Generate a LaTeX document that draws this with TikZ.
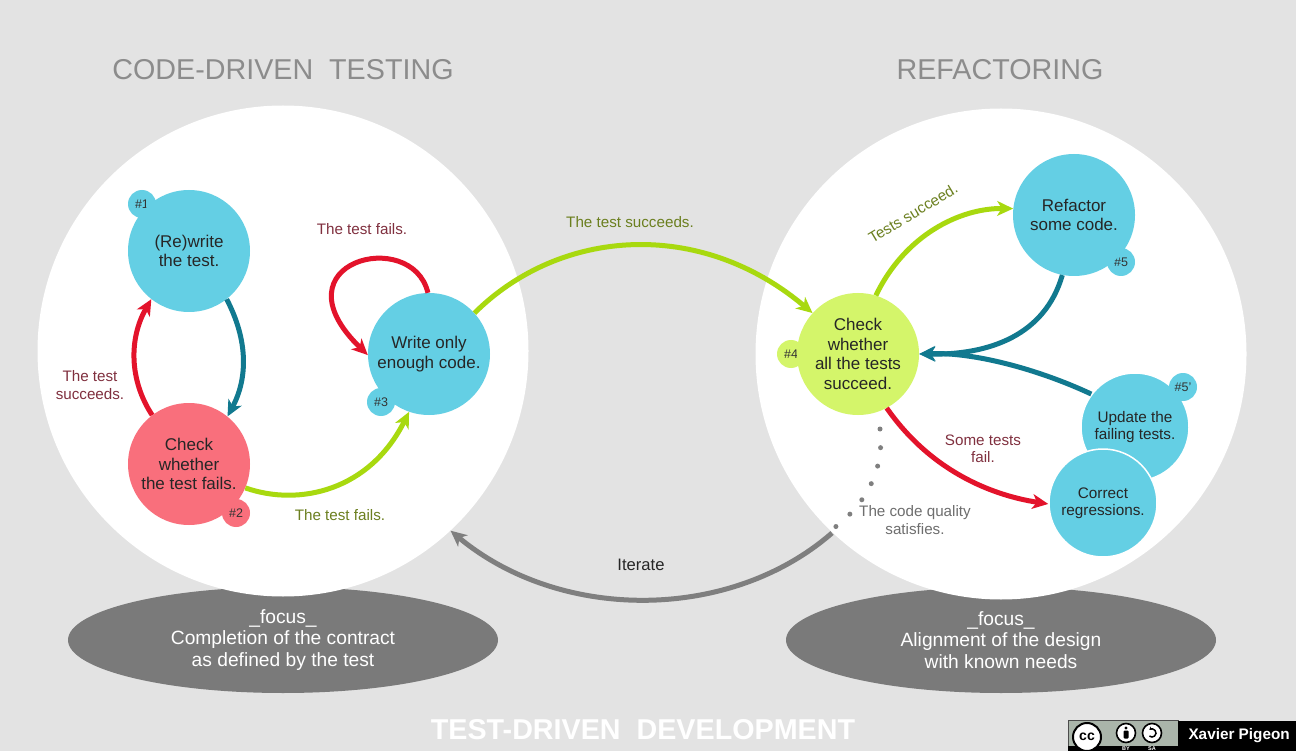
\documentclass[tikz,border=0pt]{standalone}
\usepackage{fontspec}
\setmainfont{Liberation Sans}
\usepackage{xcolor}
\usetikzlibrary{arrows.meta,shapes.geometric}
\definecolor{pagegray}{RGB}{227,227,227}
\definecolor{focusgray}{RGB}{122,122,122}
\definecolor{titlegray}{RGB}{140,140,140}
\definecolor{stepblue}{RGB}{100,207,228}
\definecolor{steppink}{RGB}{249,111,124}
\definecolor{steplime}{RGB}{212,245,106}
\definecolor{flowlime}{RGB}{168,217,15}
\definecolor{flowred}{RGB}{227,19,43}
\definecolor{flowteal}{RGB}{17,121,143}
\definecolor{flowgray}{RGB}{127,127,127}
\definecolor{labelred}{RGB}{128,48,63}
\definecolor{labelolive}{RGB}{107,127,31}
\definecolor{labelgray}{RGB}{110,110,110}
\definecolor{ccgray}{RGB}{170,181,170}
\newcommand{\fsize}[2]{\fontsize{#1}{#2}\selectfont}
\tikzset{
  phase/.style   = {circle, fill=white, minimum size=491pt, inner sep=0pt},
  focus/.style   = {ellipse, fill=focusgray, minimum width=430pt, minimum height=106pt, inner sep=0pt, align=center, text=white, font=\fsize{19.2}{21.5}},
  title/.style   = {text=titlegray, font=\fsize{28.7}{32}},
  stepnode/.style = {circle, minimum size=122pt, inner sep=0pt, align=center, text=black!85, font=\fsize{17}{19.5}},
  smallnode/.style = {stepnode, minimum size=108pt, font=\fsize{15.3}{17.5}, draw=white, line width=1.5pt},
  badge/.style   = {circle, minimum size=28pt, inner sep=0pt, text=black!80, font=\fsize{12.5}{13}},
  flow/.style    = {-{Stealth[inset=1.6mm, length=5.6mm, width=5.2mm]}, line width=5pt},
  lbl/.style     = {align=center, font=\fsize{15.2}{17.5}},
  ccicon/.style  = {circle, draw=black, fill=white, inner sep=0pt, text=black},
}
\begin{document}
\begin{tikzpicture}[x=1pt,y=-1pt]
  \useasboundingbox (0,0) rectangle (1296,751);
  \fill[pagegray] (0,0) rectangle (1296,751);

  \node[focus] (focusl) at (283,640) {\_focus\_\\Completion of the contract\\as defined by the test};
  \node[focus] (focusr) at (1001,640) {\_focus\_\\Alignment of the design\\with known needs};
  \node[phase] (cdt) at (283,351) {};
  \node[phase] (refac) at (1001,354) {};

  \node[title] (titlel) at (283,70) {CODE-DRIVEN~~TESTING};
  \node[title] (titler) at (1000,70) {REFACTORING};
  \node[title, text=white, font=\fsize{28.7}{32}\bfseries] (titleb) at (643,730) {TEST-DRIVEN~~DEVELOPMENT};

  \node[badge, fill=stepblue] (b1) at (142,204) {\#1};
  \node[badge, fill=steppink] (b2) at (236,513) {\#2};
  \node[badge, fill=stepblue] (b3) at (381,402) {\#3};
  \node[badge, fill=steplime] (b4) at (791,354) {\#4};
  \node[badge, fill=stepblue] (b5) at (1121,262) {\#5};
  \node[stepnode, fill=stepblue] (rewrite) at (189,251) {(Re)write\\the test.};
  \node[stepnode, fill=steppink] (checkfail) at (189,464) {Check\\whether\\the test fails.};
  \node[stepnode, fill=stepblue] (writecode) at (429,354) {Write only\\enough code.};
  \node[stepnode, fill=steplime] (checkall) at (858,354) {Check\\whether\\all the tests\\succeed.};
  \node[stepnode, fill=stepblue] (refactor) at (1074,215) {Refactor\\some code.};
  \node[smallnode, fill=stepblue] (update) at (1135,427) {Update the\\failing tests.};
  \node[smallnode, fill=stepblue] (correct) at (1103,503) {Correct\\regressions.};
  \node[badge, fill=stepblue] (b5p) at (1183,387) {\#5'};

  \coordinate (dotstart) at (880,429);
  \coordinate (dotend) at (834,528);
  \coordinate (iterstart) at (832,533);

  \draw[flow, flowred] (checkfail.127) .. controls (129,380) and (129,338) .. (rewrite.232);
  \draw[flow, flowteal] (rewrite.308) .. controls (248,340) and (248,378) .. (checkfail.51);
  \draw[flow, flowlime] (checkfail.337) .. controls (300,507) and (370,490) .. (writecode.251);
  \draw[flow, flowred] (writecode.91) .. controls (412,226) and (272,262) .. (writecode.181);
  \draw[flow, flowlime] (writecode.42) .. controls (560,228) and (700,218) .. (checkall.138);
  \draw[flow, flowlime] (checkall.73) .. controls (905,235) and (960,208) .. (refactor.174);
  \draw[flow, flowteal] (refactor.259) .. controls (1045,335) and (990,355) .. (checkall.0);
  \draw[flow, flowteal] (update.143) .. controls (1040,370) and (975,352) .. (checkall.0);
  \draw[flow, flowred] (checkall.298) .. controls (930,470) and (990,495) .. (correct.181);
  \draw[flow, flowgray] (iterstart) .. controls (730,622) and (560,622) .. (cdt.313);
  \draw[line width=5pt, line cap=round, dash pattern=on 0pt off 18.7pt, flowgray] (dotstart) .. controls (885,470) and (865,505) .. (dotend);

  \node[lbl, text=labelred] (l1) at (362,229) {The test fails.};
  \node[lbl, text=labelred] (l2) at (90,385) {The test\\succeeds.};
  \node[lbl, text=labelolive] (l3) at (340,515) {The test fails.};
  \node[lbl, text=labelolive] (l4) at (630,222) {The test succeeds.};
  \node[lbl, text=labelolive, rotate=31] (l5) at (913,213) {Tests succeed.};
  \node[lbl, text=labelred] (l6) at (983,449) {Some tests\\fail.};
  \node[lbl, text=labelgray] (l7) at (915,520) {The code quality\\satisfies.};
  \node[lbl, text=black!85, font=\fsize{16.6}{18}] (l8) at (641,565) {Iterate};

  \node[fill=ccgray, draw=black!70, minimum width=110pt, minimum height=31pt, inner sep=0pt] (ccbox) at (1123,736) {};
  \fill[black] (ccbox.south west) ++(0,-6) rectangle (ccbox.south east);
  \node[fill=black, minimum width=118pt, minimum height=31pt, inner sep=0pt, text=white, font=\fsize{15.3}{17}\bfseries] (author) at (1237,736) {~Xavier Pigeon};
  \node[ccicon, line width=2pt, minimum size=28pt, font=\fsize{14}{15}\bfseries] (cc) at (1087,737) {cc};
  \node[ccicon, line width=1.6pt, minimum size=19pt] (by) at (1126,733) {};
  \node[ccicon, line width=1.6pt, minimum size=19pt] (sa) at (1152,733) {};
  \fill[black] (by) ++(0,-5) circle (1.6pt);
  \fill[black, rounded corners=1pt] (by) ++(-2.5,-2.5) rectangle ++(5,8);
  \draw[line width=1.5pt, {Stealth[length=3pt, width=4pt]}-] (sa) ++(230:4) arc[start angle=230, end angle=490, radius=4];
  \node[text=white, font=\fsize{5.5}{6}\bfseries, inner sep=0pt] (bylbl) at (1126,749) {BY};
  \node[text=white, font=\fsize{5.5}{6}\bfseries, inner sep=0pt] (salbl) at (1152,749) {SA};
\end{tikzpicture}
\end{document}
